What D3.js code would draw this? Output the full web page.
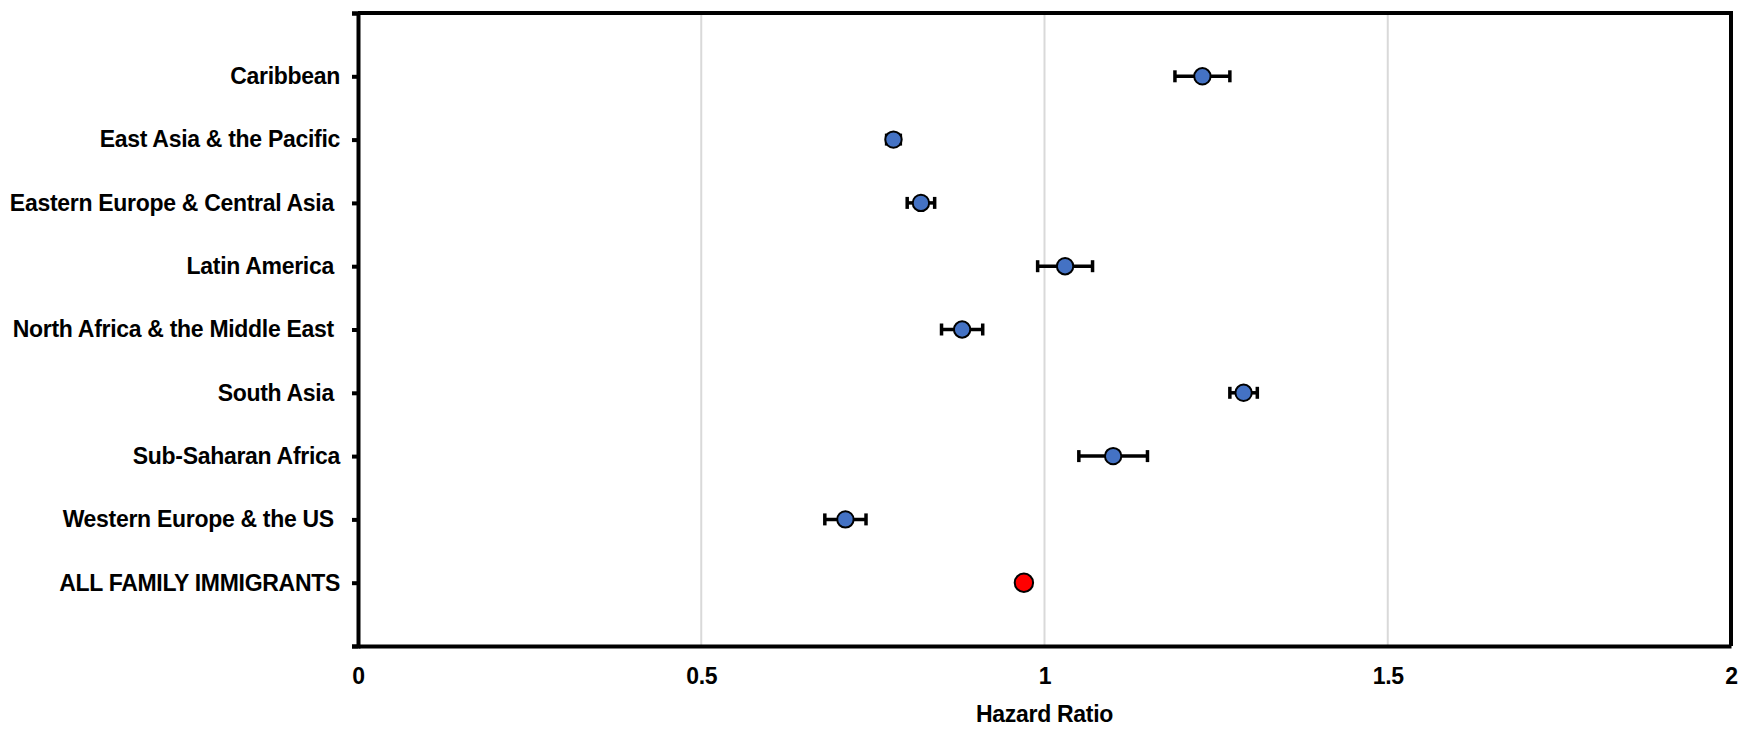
<!DOCTYPE html>
<html>
<head>
<meta charset="utf-8">
<script src="https://cdn.jsdelivr.net/npm/d3@7"></script>
<style>
  html, body { margin: 0; padding: 0; background: #fff; }
  svg { display: block; }
  .lbl { font-family: "Liberation Sans Narrow", "Arial Narrow", "Liberation Sans", Arial, sans-serif; font-weight: bold; white-space: pre; letter-spacing: -0.3px; }
</style>
</head>
<body>
<div id="chart"></div>
<script>
// regions, top to bottom (trailing spaces as in the original labels)
var regions = ["Caribbean", "East Asia & the Pacific", "Eastern Europe & Central Asia ",
               "Latin America ", "North Africa & the Middle East ", "South Asia ",
               "Sub-Saharan Africa", "Western Europe & the US ", "ALL FAMILY IMMIGRANTS"];
var hazard = [1.23, 0.78, 0.82, 1.03, 0.88, 1.29, 1.10, 0.71, 0.97];
var lower  = [1.19, 0.77, 0.80, 0.99, 0.85, 1.27, 1.05, 0.68, null];
var upper  = [1.27, 0.79, 0.84, 1.07, 0.91, 1.31, 1.15, 0.74, null];
var xTicks = [0, 0.5, 1, 1.5, 2];

var width = 1754,
    height = 731,
    margin = {top: 13, right: 23, bottom: 85, left: 358},
    innerW = width - margin.left - margin.right,
    innerH = height - margin.top - margin.bottom;

var data = regions.map(function(r, i) {
    return {name: r, hr: hazard[i], lo: lower[i], hi: upper[i], pos: regions.length - i, total: i === regions.length - 1};
});

var x = d3.scaleLinear().domain([0, 2]).range([0, innerW]);
var y = d3.scaleLinear().domain([0, regions.length + 1]).range([innerH, 0]);

var svg = d3.select("#chart").append("svg")
    .attr("width", width)
    .attr("height", height);

var g = svg.append("g")
    .attr("transform", "translate(" + margin.left + "," + margin.top + ")");

// vertical gridlines
g.append("g").selectAll("line")
    .data(xTicks.slice(1, -1))
  .enter().append("line")
    .attr("x1", function(d) { return x(d); })
    .attr("x2", function(d) { return x(d); })
    .attr("y1", 0)
    .attr("y2", innerH)
    .attr("stroke", "#d9d9d9")
    .attr("stroke-width", 2);

// frame (top + right)
g.append("path")
    .attr("d", "M0,0H" + innerW + "V" + innerH)
    .attr("fill", "none")
    .attr("stroke", "#000")
    .attr("stroke-width", 4);

// x axis
var xAxis = d3.axisBottom(x).tickValues(xTicks).tickSize(0).tickPadding(22)
    .tickFormat(function(d) { return d; });
var gx = g.append("g")
    .attr("transform", "translate(0," + innerH + ")")
    .call(xAxis);
gx.select(".domain").attr("stroke", "#000").attr("stroke-width", 4);
gx.selectAll("text").attr("class", "lbl").attr("font-size", 23).attr("fill", "#000");

// y axis: ticks at every slot, labels only for the regions
var yAxis = d3.axisLeft(y).ticks(regions.length + 1).tickSize(6).tickPadding(12)
    .tickFormat(function(d) {
        var r = data.find(function(e) { return e.pos === d; });
        return r ? r.name : "";
    });
var gy = g.append("g").call(yAxis);
gy.select(".domain").attr("stroke", "#000").attr("stroke-width", 4);
gy.selectAll(".tick line").attr("stroke", "#000").attr("stroke-width", 4);
gy.selectAll("text").attr("class", "lbl").attr("font-size", 23).attr("fill", "#000");

// x axis title
g.append("text")
    .attr("class", "lbl")
    .attr("x", x(1))
    .attr("y", innerH + 76)
    .attr("text-anchor", "middle")
    .attr("font-size", 23)
    .text("Hazard Ratio");

// error bars
var bars = g.append("g").selectAll("g")
    .data(data.filter(function(d) { return d.lo !== null; }))
  .enter().append("g")
    .attr("stroke", "#000")
    .attr("stroke-width", 3.5);

bars.append("line")
    .attr("x1", function(d) { return x(d.lo); })
    .attr("x2", function(d) { return x(d.hi); })
    .attr("y1", function(d) { return y(d.pos); })
    .attr("y2", function(d) { return y(d.pos); });

bars.selectAll(".cap")
    .data(function(d) { return [[d.lo, d.pos], [d.hi, d.pos]]; })
  .enter().append("line")
    .attr("class", "cap")
    .attr("x1", function(d) { return x(d[0]); })
    .attr("x2", function(d) { return x(d[0]); })
    .attr("y1", function(d) { return y(d[1]) - 6; })
    .attr("y2", function(d) { return y(d[1]) + 6; });

// points
g.append("g").selectAll("circle")
    .data(data)
  .enter().append("circle")
    .attr("cx", function(d) { return x(d.hr); })
    .attr("cy", function(d) { return y(d.pos); })
    .attr("r", function(d) { return d.total ? 9.2 : 8.2; })
    .attr("fill", function(d) { return d.total ? "#ff0000" : "#4472c4"; })
    .attr("stroke", "#000")
    .attr("stroke-width", 2);
</script>
</body>
</html>
